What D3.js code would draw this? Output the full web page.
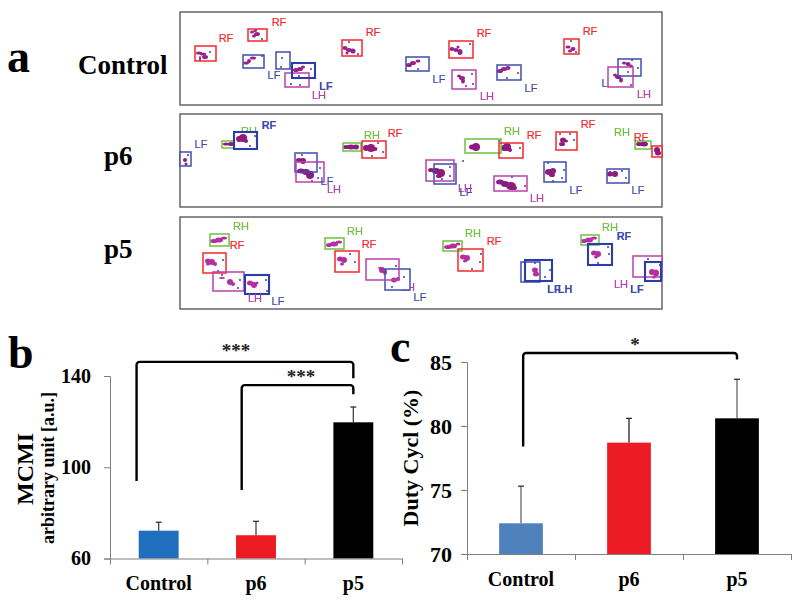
<!DOCTYPE html>
<html><head><meta charset="utf-8">
<script src="https://cdn.jsdelivr.net/npm/d3@7"></script>
<style>html,body{margin:0;padding:0;background:#fff}svg{display:block}</style>
</head><body><div id="chart"></div>
<script>
// Gait footprint panels: rows are [paw, x0, y0, x1, y1]
const pawKinds = ["RF","LF","LH","RH"];
const pawColors = ["#f4262c","#3f4db0","#b840ac","#6fc040"];
const framesA = [["Control",12,105],["p6",114,207],["p5",217,309]];
const framePos = [[78,74],[104,165],[104,258]];
const footprintsControl = [["RF",195,46,216,61],["RF",248,29,267,41],["LF",243,55,264,68],["LF",276,52,290,69],["LH",285,73,309,87],["LFb",292,63,315,78],["RF",342,40,362,56],["LF",406,57,429,71],["RF",449,41,473,58],["LH",452,70,476,89],["LF",497,65,521,80],["RF",564,39,579,54],["LF",618,59,641,76],["LH",608,67,633,87]];
const footprintsP6 = [["LF",180,152,191,166],["RH",222,141,234,148],["LFb",234,132,257,149],["LF",295,153,317,172],["LH",296,162,324,182],["RH",343,143,361,151],["RF",362,141,386,158],["RH",465,139,501,153],["RF",499,143,523,158],["LF",434,164,456,184],["LH",426,160,454,181],["LH",494,176,527,191],["RF",556,132,577,150],["LF",544,162,566,182],["LF",607,169,629,183],["RH",635,141,651,149],["RF",652,146,662,157]];
const footprintsP5 = [["RH",210,234,229,246],["RF",203,253,226,273],["LH",213,272,244,291],["LFb",245,275,269,294],["RH",325,238,344,249],["RF",335,251,359,272],["LF",385,269,410,290],["LH",366,259,399,280],["RH",443,241,462,251],["RF",458,249,483,271],["LF",521,262,540,282],["LFb",525,260,552,281],["RH",581,235,599,245],["LFb",588,244,612,265],["LH",633,256,662,277],["LFb",645,262,661,281]];
const padsControl = [[199,53,3,1.5],[203,54,3,1.5],[205,57,3,2],[200,58,1,2],[252,32,2,1.5],[255,31,2,1],[257,34,3,2],[254,36,2,1.5],[246,63,3,1.5],[249,61,2,2],[253,58,3,1.5],[296,70,3,2],[300,69,3,2],[303,67,2,1.5],[345,48,2.5,2],[349,50,3,2],[353,51,2.5,2.5],[347,53,1.5,1.5],[409,65,3,2],[413,63,3,2],[418,61,2.5,1.5],[452,49,2.5,2],[456,50,2.5,2],[460,52,2.5,3],[458,47,1.5,1.5],[459,76,2,1.5],[462,78,3,2],[463,81,2,2.5],[500,71,3,2],[504,69,3,2],[508,68,2.5,2],[568,47,2.5,1.5],[573,49,2.5,2],[570,51,2,1.5],[624,63,2,1.5],[628,64,2.5,2],[631,66,2,1.5],[615,75,2,1.5],[618,77,3,2],[621,80,2,2.5]];
const padsP6 = [[185,160,2,2],[186,164,1.5,1.5],[226,144,3,1.5],[231,144,3,2],[239,139,3,3],[243,138,4,4],[246,141,2,2],[299,160,3,2],[303,161,3,3],[301,171,4,2.5],[306,172,4,3],[310,175,4,4],[346,147,3,2],[351,147,4,2.5],[356,147,3,2.5],[366,148,3,3],[371,148,4,4],[375,149,2.5,2],[472,147,3,2.5],[476,147,4,4],[504,148,3,3],[507,147,4,4],[510,150,2,2],[431,170,3,2],[436,171,4,3],[441,173,4,4],[439,176,3,2],[500,182,4,2.5],[505,184,4,3],[511,186,5,4],[514,188,3,2],[563,140,3,2.5],[566,141,2,1.5],[562,144,3,2],[549,172,4,3],[553,171,3,3],[552,175,3,2],[610,174,3,2.5],[615,174,3,3],[639,144,3,2],[644,144,4,2.5],[657,150,3,3],[658,153,3,2.5]];
const padsP5 = [[214,241,4,2],[219,240,4,2.5],[224,238,3,1.5],[208,261,3,2.5],[212,262,3,3],[215,264,2,2],[208,264,2,1.5],[230,282,3,3],[233,284,2,2],[222,278,3,1],[250,283,3,2.5],[254,285,3,3],[257,283,1.5,1.5],[329,245,3,2],[334,244,4,2.5],[339,242,3,1.5],[340,259,3,2.5],[344,260,3,3],[342,264,2,1.5],[382,270,3,3],[385,272,2,3],[380,268,2,1],[394,280,3,2.5],[398,279,2,2],[448,247,4,2],[453,246,4,2.5],[458,244,2.5,1.5],[463,257,3,2.5],[467,258,3,3],[465,261,2,1.5],[535,270,3,2.5],[536,274,3,2.5],[584,241,3,2],[589,240,4,2.5],[594,238,3,1.5],[594,253,3,2.5],[598,254,3,3],[596,257,2,1.5],[652,272,3,3],[656,273,3,3.5],[654,277,2,1.5]];
const specks = [[200,60],[210,52],[262,39],[256,30],[262,56],[282,58],[281,67],[299,76],[311,69],[300,85],[291,84],[349,42],[358,54],[418,69],[470,44],[472,74],[473,84],[466,86],[507,78],[518,73],[571,41],[576,52],[632,60],[638,68],[628,72],[631,85],
[188,155],[250,146],[255,136],[302,155],[320,168],[318,178],[312,181],[383,152],[378,143],[372,156],[499,141],[520,148],[463,161],[450,167],[450,176],[442,179],[525,186],[512,177],[570,134],[560,134],[574,140],[548,163],[564,170],[562,178],[553,181],[626,178],[610,172],[622,171],
[222,275],[240,280],[238,288],[266,280],[267,291],[223,260],[218,271],[355,262],[350,254],[404,277],[396,266],[392,287],[481,254],[480,262],[472,269],[545,277],[550,270],[535,263],[609,254],[598,263],[608,247],[660,265],[648,259]];
// labels partly covered by a footprint box
const coveredLabels = [["LF",608,83],["RH",249,131],["LH",408,287]];
const pawLabels = [["RF",226,38],["RF",279,22],["LF",274,75],["LFb",326,86],["LH",319,95],["RF",373,32],["LF",439,79],["RF",484,33],["LH",487,96],["LF",531,88],["RF",590,31],["LH",644,94],
["LF",201,144],["RF",395,133],["RFb",269,125],["LF",327,181],["LH",334,189],["RH",372,135],["RH",512,131],["RF",534,135],["RF",588,124],["RH",622,132],["RF",641,137],["LH",465,188],["LF",466,192],["LH",537,198],["LF",576,190],["LF",638,190],
["RH",241,226],["RF",237,245],["LH",255,298],["LF",278,301],["RH",355,231],["RF",369,244],["LF",420,297],["RH",473,233],["RF",494,241],["LFb",554,289],["LHb",565,289],["RH",610,227],["RFb",624,236],["LH",621,284],["LFb",637,289]];

// Bar charts
const groups = ["Control","p6","p5"];
const mcmiValues = [72.2,70.2,119.7];
const mcmiUpper = [75.9,76.3,126.4];
const mcmiTicks = [60,100,140];
const mcmiColors = ["#1f6fbe","#ed1c24","#000000"];
const dutyValues = [72.4,78.7,80.6];
const dutyUpper = [75.3,80.6,83.65];
const dutyTicks = [70,75,80,85];
const dutyColors = ["#4f81bd","#ed1c24","#000000"];
// brackets: [left position in group units, left foot value, top value, right position, right foot value]
const mcmiBrackets = [[-0.227,94,146.2,2,139],[0.853,90,136,2,132]];
const dutyBrackets = [[0.02,78.4,85.7,2,85.2]];

const serif = "'Liberation Serif',serif", sans = "'Liberation Sans',sans-serif";
const svg = d3.select("#chart").append("svg").attr("width",800).attr("height",603).style("background","#fff");
const defs = svg.append("defs");
defs.append("filter").attr("id","soft").attr("x","-5%").attr("y","-5%").attr("width","110%").attr("height","110%")
  .append("feGaussianBlur").attr("stdDeviation",0.45);

// ---- panel a
const px = d3.scaleLinear().domain([180,662]).range([180,662]);
const py = d3.scaleLinear().domain([12,309]).range([12,309]);
const feet = [...footprintsControl,...footprintsP6,...footprintsP5];
const colorOf = k=>k.length>2?pawColors[1]:pawColors[pawKinds.indexOf(k)];
const pa = svg.append("g").attr("filter","url(#soft)");
pa.selectAll("rect.frame").data(framesA).join("rect").attr("class","frame")
  .attr("x",px(180)).attr("width",px(662)-px(180))
  .attr("y",d=>py(d[1])).attr("height",d=>py(d[2])-py(d[1]))
  .attr("fill","#fff").attr("stroke","#666").attr("stroke-width",1.5);
const drawLabels = (rows,cls)=>pa.selectAll("text."+cls).data(rows).join("text").attr("class",cls)
  .attr("x",d=>px(d[1])).attr("y",d=>py(d[2])+4).attr("text-anchor","middle")
  .attr("font-family",sans).attr("font-size",11).attr("font-weight",d=>d[0].length>2?"bold":"normal")
  .attr("stroke",d=>colorOf(d[0])).attr("stroke-width",0.2)
  .attr("fill",d=>colorOf(d[0])).text(d=>d[0].slice(0,2));
drawLabels(coveredLabels,"covered");
pa.selectAll("rect.ground").data(feet).join("rect").attr("class","ground")
  .attr("x",d=>px(d[1])).attr("y",d=>py(d[2])).attr("width",d=>px(d[3])-px(d[1])).attr("height",d=>py(d[4])-py(d[2]))
  .attr("fill","#fff");
[[padsControl,"#97208c"],[padsP6,"#8e1a80"],[padsP5,"#b52fa0"]].forEach(([rows,col],i)=>{
  pa.selectAll("ellipse.pad"+i).data(rows).join("ellipse").attr("class","pad"+i)
    .attr("cx",d=>px(d[0])).attr("cy",d=>py(d[1])).attr("rx",d=>d[2]).attr("ry",d=>d[3])
    .attr("fill",col);
});
pa.selectAll("circle.speck").data(specks).join("circle").attr("class","speck")
  .attr("cx",d=>px(d[0])).attr("cy",d=>py(d[1])).attr("r",1).attr("fill","#4f3a98");
pa.selectAll("rect.foot").data(feet).join("rect").attr("class","foot")
  .attr("x",d=>px(d[1])).attr("y",d=>py(d[2])).attr("width",d=>px(d[3])-px(d[1])).attr("height",d=>py(d[4])-py(d[2]))
  .attr("fill","none").attr("stroke",d=>d[0]==="LFb"?"#2a3ca8":colorOf(d[0]))
  .attr("stroke-width",d=>d[0].length>2?2.1:1.5);
drawLabels(pawLabels,"paw");

svg.selectAll("text.rowname").data(framesA).join("text").attr("class","rowname")
  .attr("x",(d,i)=>framePos[i][0]).attr("y",(d,i)=>framePos[i][1])
  .attr("font-family",serif).attr("font-weight","bold").attr("font-size",27).text(d=>d[0]);

const letter=(t,x,y)=>svg.append("text").attr("x",x).attr("y",y).attr("font-family",serif).attr("font-weight","bold").attr("font-size",46).text(t);
letter("a",7,72); letter("b",8,368); letter("c",390,362);

// ---- bar chart helper
function barChart(o){
  const x = d3.scaleBand().domain(groups).range(o.xr).paddingInner(0).paddingOuter(0);
  const xPos = d3.scaleLinear().domain([0,1]).range([x(groups[0])+x.bandwidth()/2,x(groups[1])+x.bandwidth()/2]);
  const y = d3.scaleLinear().domain(o.dom).range(o.yr);
  const g = svg.append("g");
  const bw = x.bandwidth()*o.barFrac;
  const cx = d=>x(d)+x.bandwidth()/2;
  const w = g.append("g").selectAll("g").data(groups).join("g");
  w.append("line").attr("x1",cx).attr("x2",cx).attr("y1",(d,i)=>y(o.values[i])).attr("y2",(d,i)=>y(o.upper[i]))
    .attr("stroke",(d,i)=>o.whisker[i]).attr("stroke-width",1.3);
  w.append("line").attr("x1",d=>cx(d)-3).attr("x2",d=>cx(d)+3).attr("y1",(d,i)=>y(o.upper[i])).attr("y2",(d,i)=>y(o.upper[i]))
    .attr("stroke","#222").attr("stroke-width",1.2);
  g.append("g").selectAll("rect").data(groups).join("rect")
    .attr("x",d=>cx(d)-bw/2).attr("width",bw)
    .attr("y",(d,i)=>y(o.values[i])).attr("height",(d,i)=>y(o.dom[0])-y(o.values[i]))
    .attr("fill",(d,i)=>o.colors[i]);
  const ya = g.append("g").attr("transform",`translate(${o.xr[0]},0)`)
    .call(d3.axisLeft(y).tickValues(o.ticks).tickSize(6).tickPadding(o.tickPad).tickFormat(d3.format("d")));
  ya.selectAll("text").attr("font-family",serif).attr("font-weight","bold").attr("font-size",o.tickSize).attr("fill","#000");
  ya.selectAll("path,line").attr("stroke","#7f7f7f");
  const edges = d3.scaleLinear().domain(o.xr).range(o.xr);
  const xa = g.append("g").attr("transform",`translate(0,${y(o.dom[0])})`)
    .call(d3.axisBottom(edges).tickValues([o.xr[0],...groups.map(d=>x(d)+x.step())]).tickSize(6).tickSizeOuter(0).tickFormat(""));
  xa.selectAll("path,line").attr("stroke","#7f7f7f");
  const xl = g.append("g").attr("transform",`translate(0,${o.labelY})`).call(d3.axisBottom(x).tickSize(0).tickPadding(0));
  xl.select("path").remove();
  xl.selectAll("text").attr("dy",0).attr("y",0).attr("font-family",serif).attr("font-weight","bold").attr("font-size",o.catSize).attr("fill","#000");
  const br = g.append("g");
  o.brackets.forEach(b=>{
    const p = d3.path(), r = 3;
    p.moveTo(xPos(b[0]),y(b[1]));
    p.arcTo(xPos(b[0]),y(b[2]),xPos(b[3]),y(b[2]),r);
    p.arcTo(xPos(b[3]),y(b[2]),xPos(b[3]),y(b[4]),r);
    p.lineTo(xPos(b[3]),y(b[4]));
    br.append("path").attr("d",p.toString()).attr("fill","none").attr("stroke","#000").attr("stroke-width",2.4);
  });
  o.stars.forEach(s=>g.append("text").attr("x",s[1]).attr("y",s[2]).attr("text-anchor","middle")
    .attr("font-family",serif).attr("font-weight","bold").attr("font-size",19).attr("fill","#222").text(s[0]));
  o.titles.forEach(t=>g.append("text").attr("transform",`translate(${t[1]},${t[2]}) rotate(-90)`).attr("text-anchor","middle")
    .attr("font-family",serif).attr("font-weight","bold").attr("font-size",t[3]).text(t[0]));
}
barChart({xr:[110,402],yr:[558.5,376],dom:[60,140],barFrac:0.41,values:mcmiValues,upper:mcmiUpper,ticks:mcmiTicks,colors:mcmiColors,
  whisker:["#444","#444","#444"],tickPad:13,tickSize:20,catSize:20,labelY:590,brackets:mcmiBrackets,
  stars:[["***",236,357],["***",301,383]],titles:[["MCMI",33,469,24],["arbitrary unit [a.u.]",54,468,18]]});
barChart({xr:[467,791],yr:[554,362],dom:[70,85],barFrac:0.405,values:dutyValues,upper:dutyUpper,ticks:dutyTicks,colors:dutyColors,
  whisker:["#666","#222","#666"],tickPad:9,tickSize:22,catSize:20,labelY:586,brackets:dutyBrackets,
  stars:[["*",635,351]],titles:[["Duty Cycl (%)",418,458,22]]});
</script></body></html>
